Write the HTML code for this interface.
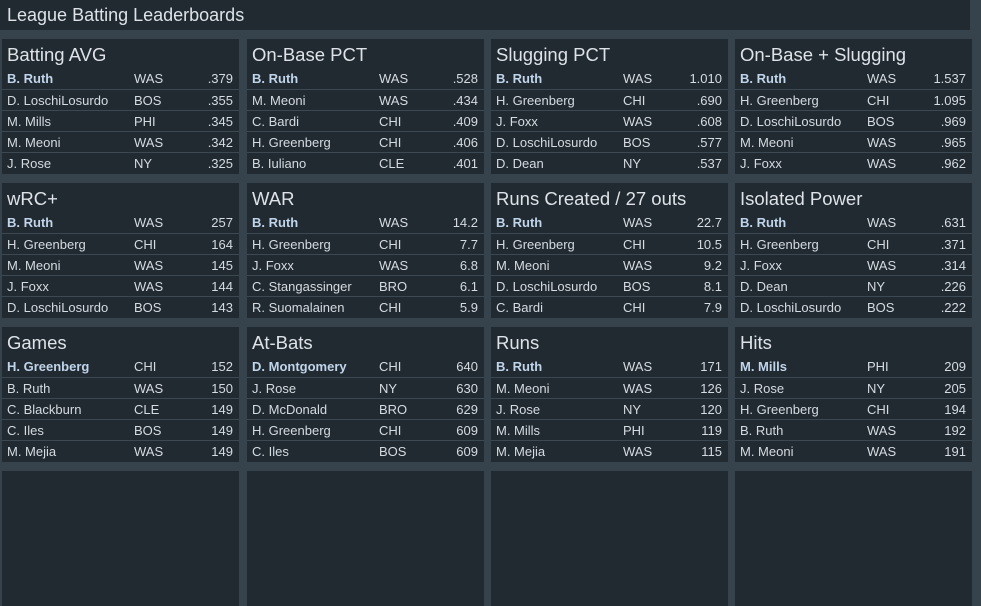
<!DOCTYPE html>
<html><head><style>
html,body{margin:0;padding:0;width:981px;height:473px;overflow:hidden;background:#36424c;font-family:"Liberation Sans",sans-serif;}
.top{position:absolute;left:0;top:0;width:970px;height:30px;background:#222a31;color:#dde3e8;font-size:18px;line-height:31px;padding-left:7px;box-sizing:border-box;}
.p{position:absolute;width:237px;height:135px;background:#222a31;}
.p h{display:block;height:29px;line-height:32px;font-size:18.5px;color:#dde3e8;padding-left:5px;}
.r{position:relative;height:20px;line-height:21px;border-top:1px solid #3c4852;font-size:13px;color:#d4dbe1;}
.r:first-of-type{border-top:none;height:21px}
.r span{position:absolute;}
.n{left:5px}.t{left:132px}.v{right:6px}
.b .n{font-weight:bold;color:#c0d4ea}
</style></head><body>
<div class="top">League Batting Leaderboards</div>
<div id="c"></div>
<script>
var D=[
["Batting AVG",[["B. Ruth","WAS",".379"],["D. LoschiLosurdo","BOS",".355"],["M. Mills","PHI",".345"],["M. Meoni","WAS",".342"],["J. Rose","NY",".325"]]],
["On-Base PCT",[["B. Ruth","WAS",".528"],["M. Meoni","WAS",".434"],["C. Bardi","CHI",".409"],["H. Greenberg","CHI",".406"],["B. Iuliano","CLE",".401"]]],
["Slugging PCT",[["B. Ruth","WAS","1.010"],["H. Greenberg","CHI",".690"],["J. Foxx","WAS",".608"],["D. LoschiLosurdo","BOS",".577"],["D. Dean","NY",".537"]]],
["On-Base + Slugging",[["B. Ruth","WAS","1.537"],["H. Greenberg","CHI","1.095"],["D. LoschiLosurdo","BOS",".969"],["M. Meoni","WAS",".965"],["J. Foxx","WAS",".962"]]],
["wRC+",[["B. Ruth","WAS","257"],["H. Greenberg","CHI","164"],["M. Meoni","WAS","145"],["J. Foxx","WAS","144"],["D. LoschiLosurdo","BOS","143"]]],
["WAR",[["B. Ruth","WAS","14.2"],["H. Greenberg","CHI","7.7"],["J. Foxx","WAS","6.8"],["C. Stangassinger","BRO","6.1"],["R. Suomalainen","CHI","5.9"]]],
["Runs Created / 27 outs",[["B. Ruth","WAS","22.7"],["H. Greenberg","CHI","10.5"],["M. Meoni","WAS","9.2"],["D. LoschiLosurdo","BOS","8.1"],["C. Bardi","CHI","7.9"]]],
["Isolated Power",[["B. Ruth","WAS",".631"],["H. Greenberg","CHI",".371"],["J. Foxx","WAS",".314"],["D. Dean","NY",".226"],["D. LoschiLosurdo","BOS",".222"]]],
["Games",[["H. Greenberg","CHI","152"],["B. Ruth","WAS","150"],["C. Blackburn","CLE","149"],["C. Iles","BOS","149"],["M. Mejia","WAS","149"]]],
["At-Bats",[["D. Montgomery","CHI","640"],["J. Rose","NY","630"],["D. McDonald","BRO","629"],["H. Greenberg","CHI","609"],["C. Iles","BOS","609"]]],
["Runs",[["B. Ruth","WAS","171"],["M. Meoni","WAS","126"],["J. Rose","NY","120"],["M. Mills","PHI","119"],["M. Mejia","WAS","115"]]],
["Hits",[["M. Mills","PHI","209"],["J. Rose","NY","205"],["H. Greenberg","CHI","194"],["B. Ruth","WAS","192"],["M. Meoni","WAS","191"]]]
];
var X=[2,247,491,735],Y=[39,183,327,471],h="";
for(var i=0;i<16;i++){var x=X[i%4],y=Y[Math.floor(i/4)];
 h+='<div class="p" style="left:'+x+'px;top:'+y+'px">';
 if(D[i]){h+='<h>'+D[i][0]+'</h>';D[i][1].forEach(function(r,j){h+='<div class="r'+(j==0?' b':'')+'"><span class="n">'+r[0]+'</span><span class="t">'+r[1]+'</span><span class="v">'+r[2]+'</span></div>';});}
 h+='</div>';}
document.getElementById('c').innerHTML=h;
</script>
</body></html>
